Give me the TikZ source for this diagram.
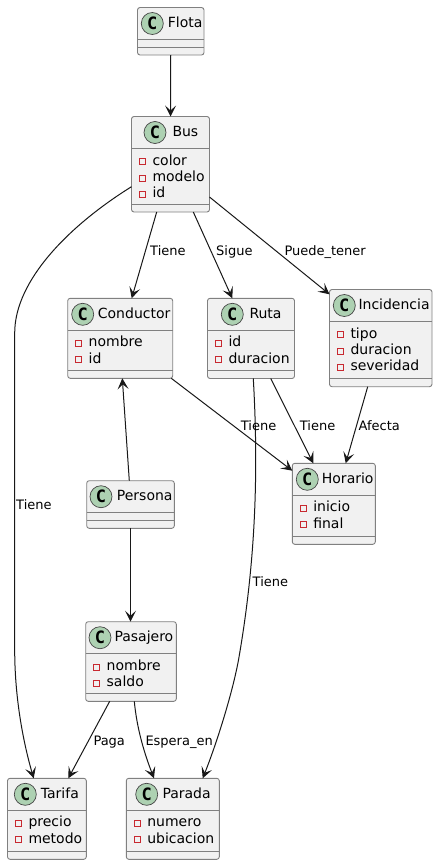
\documentclass[tikz,border=0pt]{standalone}
\usepackage{fontspec}
\setmainfont{DejaVu Sans}
\newfontfamily\spotfont{DejaVu Sans Mono}
\usetikzlibrary{arrows.meta}
\definecolor{boxfill}{HTML}{F1F1F1}
\definecolor{boxline}{HTML}{808080}
\definecolor{spotfill}{HTML}{ADD1B2}
\definecolor{inkline}{HTML}{181818}
\definecolor{memberred}{HTML}{C82930}
\tikzset{
  classbox/.style={draw=boxline, fill=boxfill, line width=0.9pt, rounded corners=2.5pt, inner sep=0pt, outer sep=0pt},
  divider/.style={draw=boxline, line width=0.9pt},
  spot/.style={circle, draw=inkline!80, fill=spotfill, line width=0.7pt, minimum size=22pt, inner sep=0pt, text=black, font=\spotfont\bfseries\fontsize{17}{17}\selectfont},
  classtitle/.style={anchor=base west, inner sep=0pt, text=black, font=\fontsize{14}{16}\selectfont},
  member/.style={anchor=base west, inner sep=0pt, text=black, font=\fontsize{14}{16}\selectfont},
  memberbox/.style={draw=memberred, line width=0.8pt, minimum size=6pt, inner sep=0pt},
  link/.style={draw=inkline, line width=1pt, -{Stealth[length=11pt,width=11pt,inset=5pt]}},
  linklabel/.style={anchor=base west, inner sep=0pt, text=black, font=\fontsize{13}{15}\selectfont}
}
% name, left, top, right, bottom, spot x, title x, title
\newcommand{\umlclass}[8]{
  \node [classbox, minimum width={#4-#2}, minimum height={#5-#3}] (#1) at ({(#2+#4)/2},{(#3+#5)/2}) {};
  \draw [divider] ([yshift=-32pt]#1.north west) -- ([yshift=-32pt]#1.north east);
  \draw [divider] ([yshift=8pt]#1.south west) -- ([yshift=8pt]#1.south east);
  \node [spot] (#1-spot) at (#6,#3+16) {C};
  \node [classtitle] (#1-title) at (#7,#3+20) {#8};
}
\newcommand{\umlmembers}[2]{
  \foreach \m [count=\i] in {#2} {
    \node [memberbox] (#1-box\i) at ([xshift=10.8pt,yshift={-45.2pt-(\i-1)*16.2pt}]#1.north west) {};
    \node [member] (#1-m\i) at ([xshift=20.8pt,yshift={-48.6pt-(\i-1)*16.2pt}]#1.north west) {\m};
  }
}
\begin{document}
\begin{tikzpicture}[x=1pt, y=-1pt]
  \useasboundingbox (0,0) rectangle (438,865);

  \umlclass{flota}{137.5}{7.5}{204}{55}{152.3}{167.7}{Flota}
  \umlclass{bus}{131.5}{116.5}{209.5}{212}{155}{172.3}{Bus}
  \umlclass{conductor}{67.7}{298.3}{172.7}{378.3}{82.7}{97.7}{Conductor}
  \umlclass{ruta}{207.5}{298.3}{294.5}{378.5}{232.3}{249.3}{Ruta}
  \umlclass{incidencia}{329.5}{289.5}{432}{386.7}{344.3}{358.3}{Incidencia}
  \umlclass{horario}{292.3}{463.3}{375.3}{544.3}{307.3}{321.7}{Horario}
  \umlclass{persona}{86.7}{480.7}{174.3}{528.3}{101}{116.7}{Persona}
  \umlclass{pasajero}{85.7}{621.7}{176.3}{701.3}{100}{114.3}{Pasajero}
  \umlclass{tarifa}{7.5}{778.3}{86.3}{859.3}{25.3}{40.7}{Tarifa}
  \umlclass{parada}{126.3}{778.3}{219.3}{859.3}{146.7}{162.3}{Parada}

  \umlmembers{bus}{color,modelo,id}
  \umlmembers{conductor}{nombre,id}
  \umlmembers{ruta}{id,duracion}
  \umlmembers{incidencia}{tipo,duracion,severidad}
  \umlmembers{horario}{inicio,final}
  \umlmembers{pasajero}{nombre,saldo}
  \umlmembers{tarifa}{precio,metodo}
  \umlmembers{parada}{numero,ubicacion}

  \draw [link] (flota.south) -- (bus.north);
  \draw [link] ([xshift=-13.8pt]bus.south) -- ([xshift=11.5pt]conductor.north);
  \draw [link] ([xshift=22.8pt]bus.south) -- ([xshift=-18.7pt]ruta.north);
  \draw [link] ([yshift=-32.75pt]bus.east) -- ([yshift=43.8pt]incidencia.west);
  \draw [link] ([yshift=-22.45pt]bus.west) .. controls (70,225) and (14.7,280) .. (14.7,333)
    -- (14.7,650) .. controls (14.7,700) and (24,745) .. ([xshift=-13.2pt]tarifa.north);
  \draw [link] ([xshift=-1.4pt]conductor.south east) -- ([yshift=33.1pt]horario.west);
  \draw [link] ([xshift=19.7pt]ruta.south) -- ([xshift=-20.5pt]horario.north);
  \draw [link] ([xshift=-13.05pt]incidencia.south) -- ([xshift=11.9pt]horario.north);
  \draw [link] ([xshift=2.3pt]ruta.south) .. controls (258.5,470) and (256,560) .. (238.5,660)
    .. controls (232,695) and (216,745) .. ([xshift=29.9pt]parada.north);
  \draw [link] ([xshift=-1.2pt]persona.north) -- ([xshift=2.1pt]conductor.south);
  \draw [link] (persona.south) -- ([xshift=-0.5pt]pasajero.north);
  \draw [link] ([xshift=-21.3pt]pasajero.south) -- ([xshift=21.4pt]tarifa.north);
  \draw [link] ([xshift=3.3pt]pasajero.south) .. controls (137,730) and (145,755) .. ([xshift=-18.8pt]parada.north);

  \node [linklabel] (tiene1) at (150,255.7) {Tiene};
  \node [linklabel] (sigue) at (216,255.7) {Sigue};
  \node [linklabel] (puede) at (284.3,255.7) {Puede\_tener};
  \node [linklabel] (tiene2) at (16,509) {Tiene};
  \node [linklabel] (tiene3) at (240.7,430) {Tiene};
  \node [linklabel] (tiene4) at (299.7,430) {Tiene};
  \node [linklabel] (afecta) at (358.5,430) {Afecta};
  \node [linklabel] (tiene5) at (252.5,586.7) {Tiene};
  \node [linklabel] (paga) at (93.3,745) {Paga};
  \node [linklabel] (espera) at (145.3,745) {Espera\_en};
\end{tikzpicture}
\end{document}
